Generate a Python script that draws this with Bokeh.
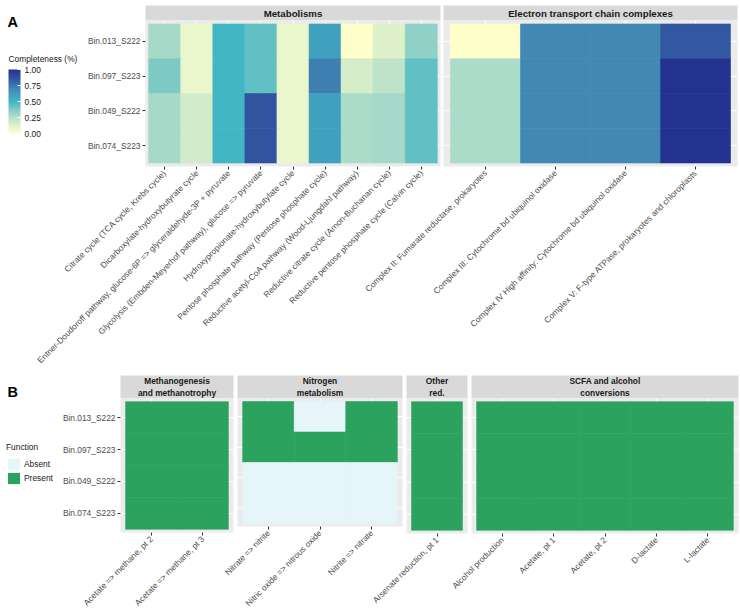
import math
import numpy as np
from bokeh.plotting import figure
from bokeh.models import (ColumnDataSource, FactorRange, Range1d, LinearColorMapper, ColorBar,
                          FixedTicker, PrintfTickFormatter, Legend, LegendItem)
from bokeh.transform import factor_cmap, transform
from bokeh.core.properties import value
from bokeh.embed import file_html
from bokeh.resources import INLINE

# ---------------- data ----------------
bins = ["Bin.013_S222", "Bin.097_S223", "Bin.049_S222", "Bin.074_S223"]

metab_pathways = [
    "Citrate cycle (TCA cycle, Krebs cycle)",
    "Dicarboxylate-hydroxybutyrate cycle",
    "Entner-Doudoroff pathway, glucose-6P => glyceraldehyde-3P + pyruvate",
    "Glycolysis (Embden-Meyerhof pathway), glucose => pyruvate",
    "Hydroxypropionate-hydroxybutylate cycle",
    "Pentose phosphate pathway (Pentose phosphate cycle)",
    "Reductive acetyl-CoA pathway (Wood-Ljungdahl pathway)",
    "Reductive citrate cycle (Arnon-Buchanan cycle)",
    "Reductive pentose phosphate cycle (Calvin cycle)",
]
# completeness per bin (same order as bins), one list per bin
metab_bin013 = [0.29, 0.09, 0.50, 0.44, 0.09, 0.60, 0.00, 0.13, 0.34]
metab_bin097 = [0.38, 0.09, 0.50, 0.44, 0.09, 0.73, 0.16, 0.23, 0.44]
metab_bin049 = [0.29, 0.17, 0.50, 0.87, 0.09, 0.60, 0.28, 0.30, 0.44]
metab_bin074 = [0.29, 0.17, 0.50, 0.87, 0.09, 0.60, 0.28, 0.30, 0.44]

etc_complexes = [
    "Complex II: Fumarate reductase, prokaryotes",
    "Complex III: Cytochrome bd ubiquinol oxidase",
    "Complex IV High affinity: Cytochrome bd ubiquinol oxidase",
    "Complex V: F-type ATPase, prokaryotes and chloroplasts",
]
etc_bin013 = [0.00, 0.70, 0.70, 0.85]
etc_bin097 = [0.28, 0.70, 0.70, 1.00]
etc_bin049 = [0.28, 0.70, 0.70, 1.00]
etc_bin074 = [0.28, 0.70, 0.70, 1.00]

facets_a = ["Metabolisms", "Electron transport chain complexes"]
facets_b = ["Methanogenesis\nand methanotrophy", "Nitrogen\nmetabolism", "Other\nred.",
            "SCFA and alcohol\nconversions"]

meth_functions = ["Acetate => methane, pt 2", "Acetate => methane, pt 3"]
meth_status = [["Present", "Present"], ["Present", "Present"],
               ["Present", "Present"], ["Present", "Present"]]
nitro_functions = ["Nitrate => nitrite", "Nitric oxide => nitrous oxide", "Nitrite => nitrate"]
nitro_status = [["Present", "Absent", "Present"], ["Present", "Present", "Present"],
                ["Absent", "Absent", "Absent"], ["Absent", "Absent", "Absent"]]
other_functions = ["Arsenate reduction, pt 1"]
other_status = [["Present"], ["Present"], ["Present"], ["Present"]]
scfa_functions = ["Alcohol production", "Acetate, pt 1", "Acetate, pt 2", "D-lactate", "L-lactate"]
scfa_status = [["Present"] * 5, ["Present"] * 5, ["Present"] * 5, ["Present"] * 5]

function_levels = ["Absent", "Present"]
completeness_ticks = [0.0, 0.25, 0.5, 0.75, 1.0]
legend_titles = ["Completeness (%)", "Function"]

# ---------------- style ----------------
W, H = 740, 614
FONT = "Liberation Sans"
AX_FS = "8.4px"
PANEL_BG = "#EBEBEB"
STRIP_BG = "#D9D9D9"
function_colors = ["#E5F5F9", "#2CA25F"]
stops = [(0.0, "#FFFFCC"), (0.1, "#E8F5CB"), (0.2, "#C8E7C9"), (0.3, "#A3D8C9"),
         (0.4, "#74C6C4"), (0.5, "#41B6C4"), (0.6, "#42A0BF"), (0.7, "#4189B5"),
         (0.8, "#3867A8"), (0.9, "#2F4A9C"), (1.0, "#24328F")]
OVERLAY = {"position": "absolute", "left": "0px", "top": "0px"}


def build_palette(stops, n=256):
    xs = [s for s, _ in stops]
    cols = np.array([[int(c[i:i + 2], 16) for i in (1, 3, 5)] for _, c in stops], float)
    pal = []
    for t in np.linspace(0, 1, n):
        rgb = [int(round(np.interp(t, xs, cols[:, k]))) for k in range(3)]
        pal.append("#%02x%02x%02x" % tuple(rgb))
    return pal


mapper = LinearColorMapper(palette=build_palette(stops), low=0, high=1)
fmapper_field = factor_cmap("status", function_colors, function_levels)

# panel boxes (left, right, top, bottom) in canvas pixels
panels_a = [(145, 440, 20, 166), (443, 737, 20, 166)]
strips_a_y = (5, 20)
panels_b = [(120, 233, 398, 533), (237, 402, 398, 533), (406, 467, 398, 533), (471, 738, 398, 533)]
strips_b_y = (375, 398)


def facet(items, source, box, show_y, fill):
    left, right, top, bottom = box
    p = figure(width=W, height=H, title=None,
               x_range=FactorRange(factors=items, range_padding=0.2 / len(items)),
               y_range=FactorRange(factors=list(reversed(bins)), range_padding=0.2 / len(bins)),
               output_backend="svg", toolbar_location=None,
               min_border_left=left, min_border_right=W - right,
               min_border_top=top, min_border_bottom=H - bottom, styles=OVERLAY)
    p.rect(x="item", y="bin", width=1, height=1, source=source,
           fill_color=fill, line_color=fill, line_width=0.6)
    p.background_fill_color = PANEL_BG
    p.border_fill_color = None
    p.outline_line_color = None
    p.grid.grid_line_color = "white"
    p.grid.grid_line_width = 1
    for ax in p.axis:
        ax.axis_line_color = None
        ax.major_tick_line_color = "#333333"
        ax.major_tick_out = 3
        ax.major_tick_in = 0
        ax.minor_tick_line_color = None
        ax.major_label_text_font = FONT
        ax.major_label_text_font_size = AX_FS
        ax.major_label_text_color = "#4D4D4D"
        ax.major_label_standoff = 2
    p.xaxis.major_label_orientation = math.pi / 4
    if not show_y:
        p.yaxis.visible = False
    return p


def tile_source(items, rows, key):
    xs, ys, vs = [], [], []
    for b, row in zip(bins, rows):
        for it, v in zip(items, row):
            xs.append(it)
            ys.append(b)
            vs.append(v)
    return ColumnDataSource(dict(item=xs, bin=ys, **{key: vs}))


metab_src = tile_source(metab_pathways, [metab_bin013, metab_bin097, metab_bin049, metab_bin074], "value")
etc_src = tile_source(etc_complexes, [etc_bin013, etc_bin097, etc_bin049, etc_bin074], "value")
cfill = transform("value", mapper)

figs = [
    facet(metab_pathways, metab_src, panels_a[0], True, cfill),
    facet(etc_complexes, etc_src, panels_a[1], False, cfill),
]
b_sets = [(meth_functions, meth_status), (nitro_functions, nitro_status),
          (other_functions, other_status), (scfa_functions, scfa_status)]
for i, (items, status) in enumerate(b_sets):
    figs.append(facet(items, tile_source(items, status, "status"), panels_b[i], i == 0, fmapper_field))

# ---------------- base (decorations, legends) ----------------
base = figure(width=W, height=H, title=None, x_range=Range1d(0, W), y_range=Range1d(H, 0),
              x_axis_type=None, y_axis_type=None, output_backend="svg", toolbar_location=None,
              min_border=0, styles=OVERLAY)
base.outline_line_color = None
base.background_fill_color = "white"

sa = ColumnDataSource(dict(left=[b[0] for b in panels_a], right=[b[1] for b in panels_a],
                           top=[strips_a_y[0]] * 2, bottom=[strips_a_y[1]] * 2, label=facets_a,
                           cx=[(b[0] + b[1]) / 2 for b in panels_a],
                           cy=[(strips_a_y[0] + strips_a_y[1]) / 2] * 2))
sb = ColumnDataSource(dict(left=[b[0] for b in panels_b], right=[b[1] for b in panels_b],
                           top=[strips_b_y[0]] * 4, bottom=[strips_b_y[1]] * 4, label=facets_b,
                           cx=[(b[0] + b[1]) / 2 for b in panels_b],
                           cy=[(strips_b_y[0] + strips_b_y[1]) / 2] * 4))
for src, fs in ((sa, "9.7px"), (sb, "8.4px")):
    base.quad(left="left", right="right", top="top", bottom="bottom", source=src,
              fill_color=STRIP_BG, line_color=None)
    base.text(x="cx", y="cy", text="label", source=src, text_align="center",
              text_baseline="middle", text_font=value(FONT), text_font_style="bold",
              text_font_size=fs, text_color="#1A1A1A", text_line_height=1.2)

base.text(x=[7, 7], y=[21, 391], text=["A", "B"], text_font=value(FONT), text_font_style="bold",
          text_font_size="14.5px", text_color="black", text_baseline="alphabetic")
base.text(x=[8], y=[58], text=[legend_titles[0]], text_font=value(FONT), text_font_size=AX_FS,
          text_color="#1A1A1A", text_baseline="middle")

cb = ColorBar(color_mapper=mapper, location=(8, H - 133), width=12, height=64, padding=0, margin=0,
              ticker=FixedTicker(ticks=completeness_ticks),
              formatter=PrintfTickFormatter(format="%.2f"),
              major_label_text_font=FONT, major_label_text_font_size=AX_FS,
              major_label_text_color="#1A1A1A", label_standoff=4,
              major_tick_line_color="white", major_tick_in=3, major_tick_out=0,
              minor_tick_line_color=None, bar_line_color=None,
              background_fill_alpha=0, border_line_color=None)
base.add_layout(cb)

# legend keys: one (undrawn) entry per level, coloured through the same factor mapping
key_src = ColumnDataSource(dict(status=function_levels, x=np.full(2, np.nan), y=np.full(2, np.nan)))
key_r = base.rect(x="x", y="y", width=1, height=1, source=key_src,
                  fill_color=fmapper_field, line_color=None)
leg_items = [LegendItem(label=lvl, renderers=[key_r], index=i) for i, lvl in enumerate(function_levels)]
leg = Legend(items=leg_items, location=(6, H - 485), title=legend_titles[1],
             padding=0, margin=0, spacing=-2, glyph_width=15, glyph_height=14, label_height=14,
             label_standoff=3, title_standoff=5, label_text_font=FONT, label_text_font_size=AX_FS,
             label_text_color="#1A1A1A", title_text_font=FONT, title_text_font_size=AX_FS,
             title_text_font_style="normal", title_text_color="#1A1A1A",
             border_line_color=None, background_fill_alpha=0)
base.add_layout(leg)

open("out.html", "w").write(file_html([base] + figs, INLINE))
